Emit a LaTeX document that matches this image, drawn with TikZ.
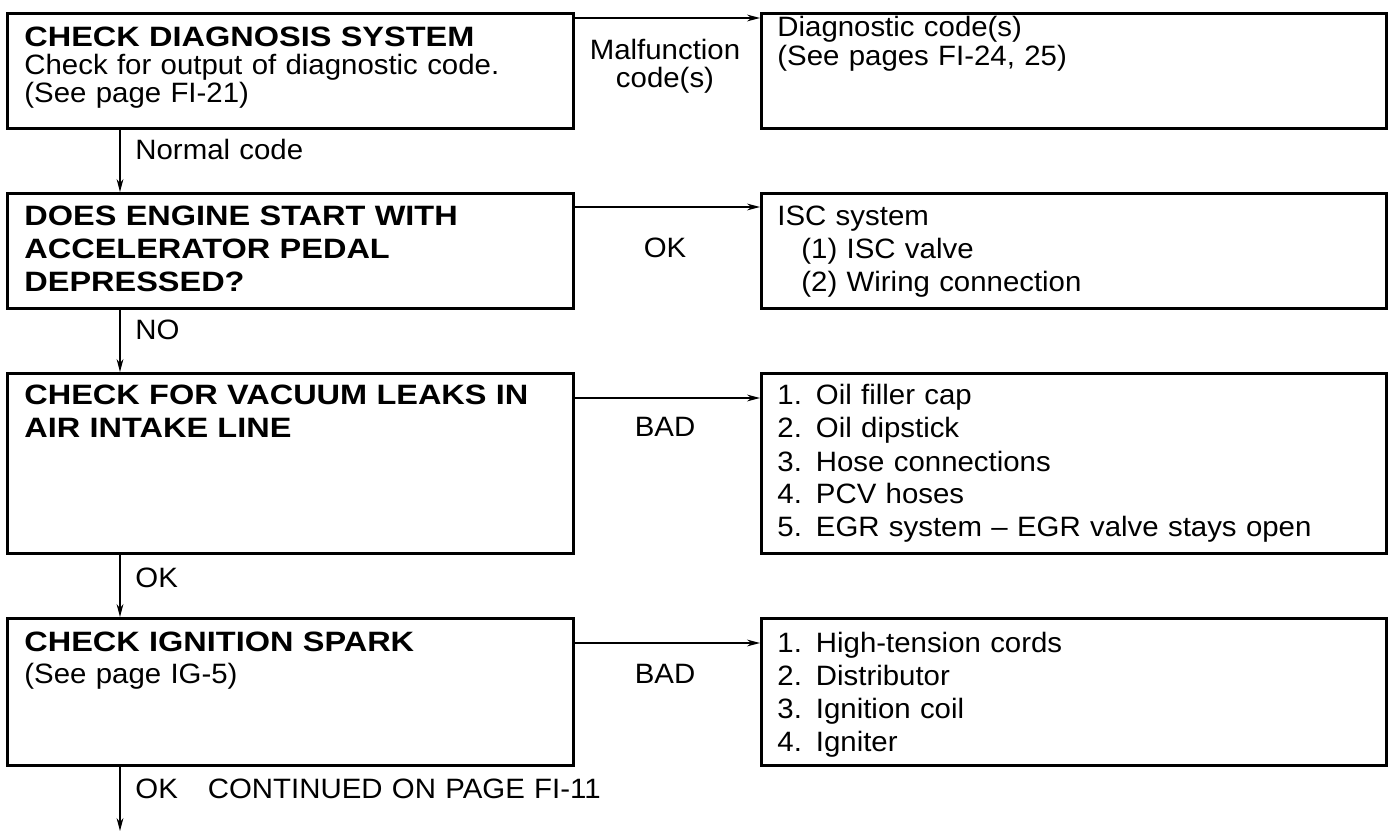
\documentclass[tikz,border=0pt]{standalone}
\usepackage{fontspec}
\setmainfont{Liberation Sans}[FakeStretch=1.05]
\newfontfamily\headfont{Liberation Sans Bold}[FakeStretch=1.16]
\usetikzlibrary{arrows.meta}
\begin{document}
\begin{tikzpicture}[x=0.5pt,y=-0.5pt,
  box/.style={draw,line width=1.4pt,anchor=north west,inner sep=0pt},
  txt/.style={anchor=base west,inner sep=0pt,align=left,text width=300pt,
    font=\fontsize{14}{16.5}\selectfont},
  head/.style={txt,font=\fontsize{14}{16.5}\selectfont\headfont},
  lab/.style={anchor=base,inner sep=0pt,align=center,
    font=\fontsize{14}{14}\selectfont},
  arr/.style={line width=0.75pt,-{Stealth[length=6.5pt,width=3.4pt]}}]
\useasboundingbox (0,0) rectangle (1393,834);
% left boxes
\node[box,minimum width=283pt,minimum height=57.5pt] (b1) at (6,12) {};
\node[box,minimum width=283pt,minimum height=57.5pt] (b2) at (6,192) {};
\node[box,minimum width=283pt,minimum height=90pt] (b3) at (6,372) {};
\node[box,minimum width=283pt,minimum height=73.5pt] (b4) at (6,617) {};
% right boxes
\node[box,minimum width=312.5pt,minimum height=57.5pt] (r1) at (760,12) {};
\node[box,minimum width=312.5pt,minimum height=57.5pt] (r2) at (760,192) {};
\node[box,minimum width=312.5pt,minimum height=90pt] (r3) at (760,372) {};
\node[box,minimum width=312.5pt,minimum height=73.5pt] (r4) at (760,617) {};
% texts left
\node[head] (t1) at (24,47) {CHECK DIAGNOSIS SYSTEM};
\node[txt,font=\fontsize{14}{14}\selectfont] (t1b) at (24,75) {Check for output of diagnostic code.\\(See page FI-21)};
\node[head] (t2) at (24,226) {DOES ENGINE START WITH\\ACCELERATOR PEDAL\\DEPRESSED?};
\node[head] (t3) at (24,405) {CHECK FOR VACUUM LEAKS IN\\AIR INTAKE LINE};
\node[head] (t4) at (24,651) {CHECK IGNITION SPARK};
\node[txt] (t4b) at (24,683) {(See page IG-5)};
% texts right
\node[txt,font=\fontsize{14}{14.5}\selectfont] (s1) at (777,37) {Diagnostic code(s)\\(See pages FI-24, 25)};
\node[txt] (s2) at (777,226) {ISC system\\\hspace*{12pt}(1) ISC valve\\\hspace*{12pt}(2) Wiring connection};
\node[txt] (s3) at (777,405) {1. Oil filler cap\\2. Oil dipstick\\3. Hose connections\\4. PCV hoses\\5. EGR system -- EGR valve stays open};
\node[txt] (s4) at (777,652) {1. High-tension cords\\2. Distributor\\3. Ignition coil\\4. Igniter};
% branch labels
\node[lab] (m1) at (665,60) {Malfunction};
\node[lab] (m1b) at (665,88) {code(s)};
\node[lab] (m2) at (665,258) {OK};
\node[lab] (m3) at (665,437) {BAD};
\node[lab] (m4) at (665,683) {BAD};
% vertical labels
\node[txt] (v1) at (135,160) {Normal code};
\node[txt] (v2) at (135,340) {NO};
\node[txt] (v3) at (135,587) {OK};
\node[txt] (v4) at (135,798) {OK\hspace{15pt}CONTINUED ON PAGE FI-11};
\coordinate (end) at (120,831);
% connectors
\draw[arr] ([yshift=-3pt]b1.north east) -- ([yshift=-3pt]r1.north west);
\draw[arr] ([yshift=-7.5pt]b2.north east) -- ([yshift=-7.5pt]r2.north west);
\draw[arr] ([yshift=-13pt]b3.north east) -- ([yshift=-13pt]r3.north west);
\draw[arr] ([yshift=-13pt]b4.north east) -- ([yshift=-13pt]r4.north west);
\draw[arr] (b1.south west) ++(114,0) coordinate (c1) -- (c1 |- b2.north);
\draw[arr] (b2.south west) ++(114,0) coordinate (c2) -- (c2 |- b3.north);
\draw[arr] (b3.south west) ++(114,0) coordinate (c3) -- (c3 |- b4.north);
\draw[arr] (b4.south west) ++(114,0) coordinate (c4) -- (end);
\end{tikzpicture}
\end{document}
